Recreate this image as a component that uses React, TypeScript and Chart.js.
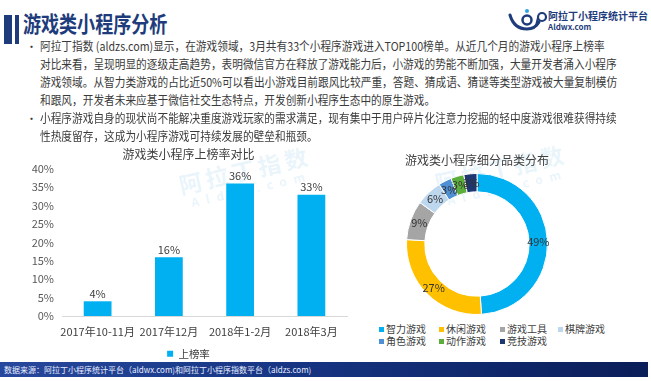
import React, { useEffect, useRef } from "react";
import { Chart, registerables } from "chart.js";

Chart.register(...registerables);

// ---- data ----
const barCategories = ["2017年10-11月", "2017年12月", "2018年1-2月", "2018年3月"];
const barValues = [4, 16, 36, 33];
const barSeriesName = "上榜率";
const barTitle = "游戏类小程序上榜率对比";
const yMax = 40;
const yStep = 5;

const pieCategories = ["智力游戏", "休闲游戏", "游戏工具", "棋牌游戏", "角色游戏", "动作游戏", "竞技游戏"];
const pieValues = [49, 27, 9, 6, 3, 3, 3];
const pieColors = ["#00B0F0", "#FFC000", "#A5A5A5", "#BDD7EE", "#4F8FD3", "#5BAE3C", "#1F3770"];
const pieTitle = "游戏类小程序细分品类分布";

const slideTitle = "游戏类小程序分析";
const para1 = [
  "阿拉丁指数 (aldzs.com)显示，在游戏领域，3月共有33个小程序游戏进入TOP100榜单。从近几个月的游戏小程序上榜率",
  "对比来看，呈现明显的逐级走高趋势，表明微信官方在释放了游戏能力后，小游戏的势能不断加强，大量开发者涌入小程序",
  "游戏领域。从智力类游戏的占比近50%可以看出小游戏目前跟风比较严重，答题、猜成语、猜谜等类型游戏被大量复制模仿",
  "和跟风，开发者未来应基于微信社交生态特点，开发创新小程序生态中的原生游戏。",
];
const para2 = [
  "小程序游戏自身的现状尚不能解决重度游戏玩家的需求满足，现有集中于用户碎片化注意力挖掘的轻中度游戏很难获得持续",
  "性热度留存，这成为小程序游戏可持续发展的壁垒和瓶颈。",
];
const footerText = "数据来源：阿拉丁小程序统计平台（aldwx.com)和阿拉丁小程序指数平台（aldzs.com)";

const FONT = "'Noto Sans CJK SC', 'Noto Sans', sans-serif";
const NAVY = "#1E3C7C";
const TEXT = "#3A3A3A";

const barLabelPlugin = {
  id: "barLabels",
  afterDatasetsDraw(chart: any) {
    const ctx = chart.ctx;
    const meta = chart.getDatasetMeta(0);
    ctx.save();
    ctx.font = `11px ${FONT}`;
    ctx.fillStyle = "#404040";
    ctx.textAlign = "center";
    ctx.textBaseline = "bottom";
    meta.data.forEach((el: any, i: number) => {
      ctx.fillText(barValues[i] + "%", el.x, el.y - 2);
    });
    ctx.restore();
  },
};

const pieLabelPlugin = {
  id: "pieLabels",
  afterDatasetsDraw(chart: any) {
    const ctx = chart.ctx;
    const meta = chart.getDatasetMeta(0);
    ctx.save();
    ctx.font = `11px ${FONT}`;
    ctx.fillStyle = "#333333";
    ctx.textAlign = "center";
    ctx.textBaseline = "middle";
    meta.data.forEach((arc: any, i: number) => {
      const p = arc.getProps(["startAngle", "endAngle", "innerRadius", "outerRadius", "x", "y"], true);
      const a = (p.startAngle + p.endAngle) / 2;
      const r = (p.innerRadius + p.outerRadius) / 2;
      ctx.fillText(pieValues[i] + "%", p.x + Math.cos(a) * r, p.y + Math.sin(a) * r);
    });
    ctx.restore();
  },
};

function BarChart() {
  const ref = useRef<HTMLCanvasElement>(null);
  useEffect(() => {
    Chart.defaults.font.family = FONT;
    const chart = new Chart(ref.current!, {
      type: "bar",
      data: {
        labels: barCategories,
        datasets: [
          {
            label: barSeriesName,
            data: barValues,
            backgroundColor: "#00B0F0",
            categoryPercentage: 1,
            barPercentage: 0.39,
          },
        ],
      },
      options: {
        animation: false,
        responsive: false,
        maintainAspectRatio: false,
        layout: { padding: { left: 30, right: 1, top: 0, bottom: 0 } },
        plugins: {
          title: {
            display: true,
            text: barTitle,
            color: "#404040",
            font: { size: 12, weight: "normal" as any },
            padding: { top: 7.5, bottom: 7 },
          },
          legend: {
            display: true,
            position: "bottom",
            labels: {
              boxWidth: 6,
              boxHeight: 6,
              padding: 4,
              color: "#404040",
              font: { size: 10.5 },
            },
          },
          tooltip: { enabled: false },
        },
        scales: {
          x: {
            grid: { display: false, drawTicks: false },
            border: { display: true, color: "#D9D9D9", width: 1 },
            ticks: { color: "#404040", font: { size: 11 }, padding: 9, maxRotation: 0, autoSkip: false },
            afterFit: (s: any) => {
              s.height = 28.5;
            },
          },
          y: {
            min: 0,
            max: yMax,
            grid: { display: false, drawTicks: false },
            border: { display: false },
            ticks: {
              stepSize: yStep,
              color: "#595959",
              font: { size: 11 },
              padding: 8,
              callback: (v: any) => v + "%",
            },
            afterFit: (s: any) => {
              s.width = 32;
            },
          },
        },
      },
      plugins: [barLabelPlugin],
    });
    return () => chart.destroy();
  }, []);
  return (
    <canvas
      ref={ref}
      width={348}
      height={229}
      style={{ position: "absolute", left: 0, top: 140, width: 348, height: 229, zIndex: 2 }}
    />
  );
}

function PieChart() {
  const ref = useRef<HTMLCanvasElement>(null);
  useEffect(() => {
    Chart.defaults.font.family = FONT;
    const chart = new Chart(ref.current!, {
      type: "doughnut",
      data: {
        labels: pieCategories,
        datasets: [
          {
            data: pieValues,
            backgroundColor: pieColors,
            borderColor: "#FFFFFF",
            borderWidth: 1,
          },
        ],
      },
      options: {
        animation: false,
        responsive: false,
        maintainAspectRatio: false,
        cutout: "74%",
        layout: { padding: 0 },
        plugins: {
          title: {
            display: true,
            text: pieTitle,
            color: "#404040",
            font: { size: 12, weight: "normal" as any },
            padding: { top: 13, bottom: 5.6 },
          },
          legend: { display: false },
          tooltip: { enabled: false },
        },
      },
      plugins: [pieLabelPlugin],
    });
    return () => chart.destroy();
  }, []);
  return (
    <canvas
      ref={ref}
      width={234}
      height={175}
      style={{ position: "absolute", left: 360, top: 140, width: 234, height: 175, zIndex: 2 }}
    />
  );
}

function PieLegend() {
  const cols = [60, 61, 58, 60];
  return (
    <div
      style={{
        position: "absolute",
        left: 379,
        top: 323,
        display: "grid",
        gridTemplateColumns: cols.map((c) => c + "px").join(" "),
        gridAutoRows: "12px",
        fontFamily: FONT,
        fontSize: 10,
        color: "#404040",
        zIndex: 3,
      }}
    >
      {pieCategories.map((c, i) => (
        <div key={c} style={{ display: "flex", alignItems: "center", whiteSpace: "nowrap", lineHeight: "12px" }}>
          <span style={{ width: 5, height: 5, background: pieColors[i], marginRight: 2, display: "inline-block" }} />
          <span>{c}</span>
        </div>
      ))}
    </div>
  );
}

function Logo() {
  return (
    <div style={{ position: "absolute", left: 508, top: 6, width: 143, height: 30 }}>
      <svg width={40} height={30} style={{ position: "absolute", left: 0, top: 0 }}>
        <path d="M2 9 Q6 23 19 23 Q27 23 31 16" stroke={NAVY} strokeWidth={3} fill="none" strokeLinecap="round" />
        <circle cx={19} cy={14} r={4.5} stroke={NAVY} strokeWidth={2.5} fill="none" />
        <circle cx={19} cy={5} r={2} fill="#2EA3E3" />
        <circle cx={34} cy={11} r={4} stroke={NAVY} strokeWidth={2.2} fill="none" />
        <path d="M30 12 L28 20" stroke={NAVY} strokeWidth={2.2} strokeLinecap="round" />
      </svg>
      <div
        style={{
          position: "absolute",
          left: 40,
          top: 4,
          fontFamily: FONT,
          fontWeight: 700,
          fontSize: 10,
          lineHeight: "12px",
          color: NAVY,
          whiteSpace: "nowrap",
        }}
      >
        阿拉丁小程序统计平台
      </div>
      <div
        style={{
          position: "absolute",
          left: 40,
          top: 16,
          fontFamily: FONT,
          fontWeight: 700,
          fontSize: 8,
          lineHeight: "10px",
          color: NAVY,
          whiteSpace: "nowrap",
        }}
      >
        Aldwx.com
      </div>
    </div>
  );
}

function Watermark({ left, top }: { left: number; top: number }) {
  return (
    <div
      style={{
        position: "absolute",
        left,
        top,
        transform: "rotate(-13deg)",
        transformOrigin: "left top",
        color: "rgba(90,175,230,0.14)",
        fontFamily: FONT,
        fontWeight: 700,
        whiteSpace: "nowrap",
        zIndex: 1,
      }}
    >
      <div style={{ fontSize: 23, lineHeight: "26px", letterSpacing: 4 }}>阿拉丁指数</div>
      <div style={{ fontSize: 12, lineHeight: "14px", letterSpacing: 7, marginLeft: 8 }}>Aldzs.com</div>
    </div>
  );
}

function Paragraph({ lines, top }: { lines: string[]; top: number }) {
  return (
    <div style={{ position: "absolute", left: 0, top, fontFamily: FONT, color: TEXT, zIndex: 3 }}>
      <div style={{ position: "absolute", left: 26, top: 0, fontSize: 11, lineHeight: "18px" }}>•</div>
      <div
        style={{
          position: "absolute",
          left: 40,
          top: 0,
          fontSize: 12,
          lineHeight: "18px",
          transform: "scaleX(0.89)",
          transformOrigin: "left top",
        }}
      >
        {lines.map((l, i) => (
          <div key={i} style={{ whiteSpace: "nowrap" }}>
            {l}
          </div>
        ))}
      </div>
    </div>
  );
}

export default function App() {
  return (
    <div
      style={{
        position: "fixed",
        left: 0,
        top: 0,
        width: 651,
        height: 381,
        overflow: "hidden",
        background: "#FFFFFF",
      }}
    >
      {/* title bars */}
      <div style={{ position: "absolute", left: 4, top: 15, width: 8, height: 29, background: NAVY }} />
      <div style={{ position: "absolute", left: 15, top: 15, width: 4, height: 29, background: NAVY }} />
      <div
        style={{
          position: "absolute",
          left: 23,
          top: 10,
          fontFamily: FONT,
          fontWeight: 700,
          fontSize: 22,
          lineHeight: "24px",
          color: NAVY,
          whiteSpace: "nowrap",
          transform: "scaleX(0.82)",
          transformOrigin: "left top",
        }}
      >
        {slideTitle}
      </div>
      <Logo />
      <Paragraph lines={para1} top={37} />
      <Paragraph lines={para2} top={109} />

      <Watermark left={176} top={172} />
      <Watermark left={432} top={170} />

      <BarChart />
      <PieChart />
      <PieLegend />

      {/* footer */}
      <div
        style={{
          position: "absolute",
          left: 0,
          top: 362,
          width: 648,
          height: 15,
          background: "linear-gradient(90deg, #27489C 0%, #163583 45%, #0E2668 80%, #0A1E58 100%)",
          zIndex: 4,
        }}
      >
        <div
          style={{
            position: "absolute",
            left: 4,
            top: 0,
            fontFamily: FONT,
            fontSize: 8,
            lineHeight: "15px",
            color: "#E8EEFF",
            whiteSpace: "nowrap",
          }}
        >
          {footerText}
        </div>
      </div>
    </div>
  );
}
